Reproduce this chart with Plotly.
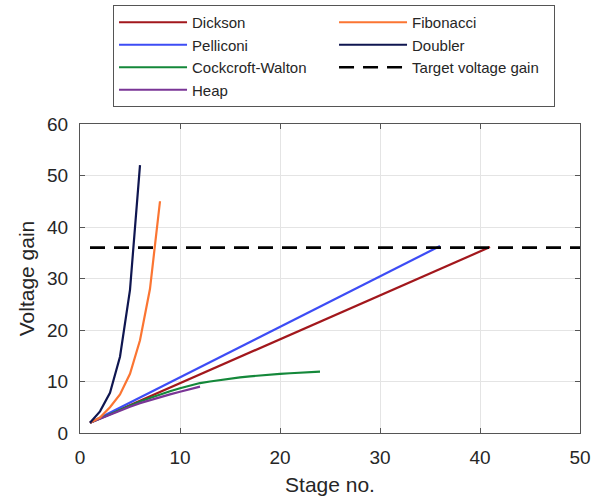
import plotly.graph_objects as go

# ---- data ----
dickson_stage = [1, 41]
dickson_gain = [2.0, 36.1]

pelliconi_stage = [1, 36]
pelliconi_gain = [2.0, 36.3]

cw_stage = list(range(1, 25))
cw_gain = [2.0, 2.85, 3.7, 4.5, 5.3, 6.1, 6.8, 7.5, 8.1, 8.7, 9.2, 9.7,
           10.0, 10.3, 10.6, 10.8, 11.0, 11.2, 11.35, 11.5, 11.6, 11.7, 11.8, 11.9]

heap_stage = list(range(1, 13))
heap_gain = [2.0, 2.8, 3.6, 4.4, 5.1, 5.8, 6.4, 7.0, 7.5, 8.0, 8.5, 9.0]

fib_stage = list(range(1, 9))
fib_gain = [2.0, 3.0, 5.0, 7.5, 11.5, 18.0, 28.0, 45.0]

doubler_stage = list(range(1, 7))
doubler_gain = [2.0, 4.2, 7.8, 14.8, 27.8, 52.0]

target_stage = [1, 50]
target_gain = [36, 36]

x_ticks = [0, 10, 20, 30, 40, 50]
y_ticks = [0, 10, 20, 30, 40, 50, 60]

FONT = "Liberation Sans, Arial, Helvetica, sans-serif"
TXT = "#262626"

fig = go.Figure()

series = [
    ("Dickson", dickson_stage, dickson_gain, "#a2171c", 1, None),
    ("Pelliconi", pelliconi_stage, pelliconi_gain, "#3d4cf5", 3, None),
    ("Cockcroft-Walton", cw_stage, cw_gain, "#14883a", 5, None),
    ("Heap", heap_stage, heap_gain, "#7a3596", 7, None),
    ("Fibonacci", fib_stage, fib_gain, "#fb7532", 2, None),
    ("Doubler", doubler_stage, doubler_gain, "#0f1650", 4, None),
    ("Target voltage gain", target_stage, target_gain, "#000000", 6, "15px,9px"),
]

for name, xs, ys, col, rank, dash in series:
    fig.add_trace(go.Scatter(
        x=xs, y=ys, mode="lines", name=name, legendrank=rank,
        line=dict(color=col, width=2.6 if dash else 2.2, dash=dash),
    ))

axis_common = dict(
    showline=True, linecolor="#555555", linewidth=1, mirror="allticks",
    ticks="inside", ticklen=5, tickcolor="#555555",
    showgrid=True, gridcolor="#e4e4e4", gridwidth=1,
    zeroline=False, automargin=False, ticklabelstandoff=7,
    tickfont=dict(family=FONT, size=19, color=TXT),
)

fig.update_xaxes(range=[0, 50], tickvals=x_ticks,
                 title=dict(text="Stage no.", font=dict(family=FONT, size=21, color=TXT), standoff=10),
                 **axis_common)
fig.update_yaxes(range=[0, 60], tickvals=y_ticks,
                 title=dict(text="Voltage gain", font=dict(family=FONT, size=21, color=TXT), standoff=6),
                 **axis_common)

fig.update_layout(
    width=611, height=498,
    margin=dict(l=80, r=31, t=124, b=65),
    plot_bgcolor="white", paper_bgcolor="white",
    font=dict(family=FONT, color=TXT),
    legend=dict(
        orientation="h", xref="container", yref="container",
        x=0.185, y=0.99, xanchor="left", yanchor="top",
        entrywidth=137, entrywidthmode="pixels", itemwidth=68,
        bordercolor="#555555", borderwidth=1, bgcolor="white",
        font=dict(family=FONT, size=15, color=TXT),
        tracegroupgap=0, traceorder="normal",
    ),
)

fig.write_html("out.html", config={"displayModeBar": False},
               post_script="document.body.style.margin='0';")
